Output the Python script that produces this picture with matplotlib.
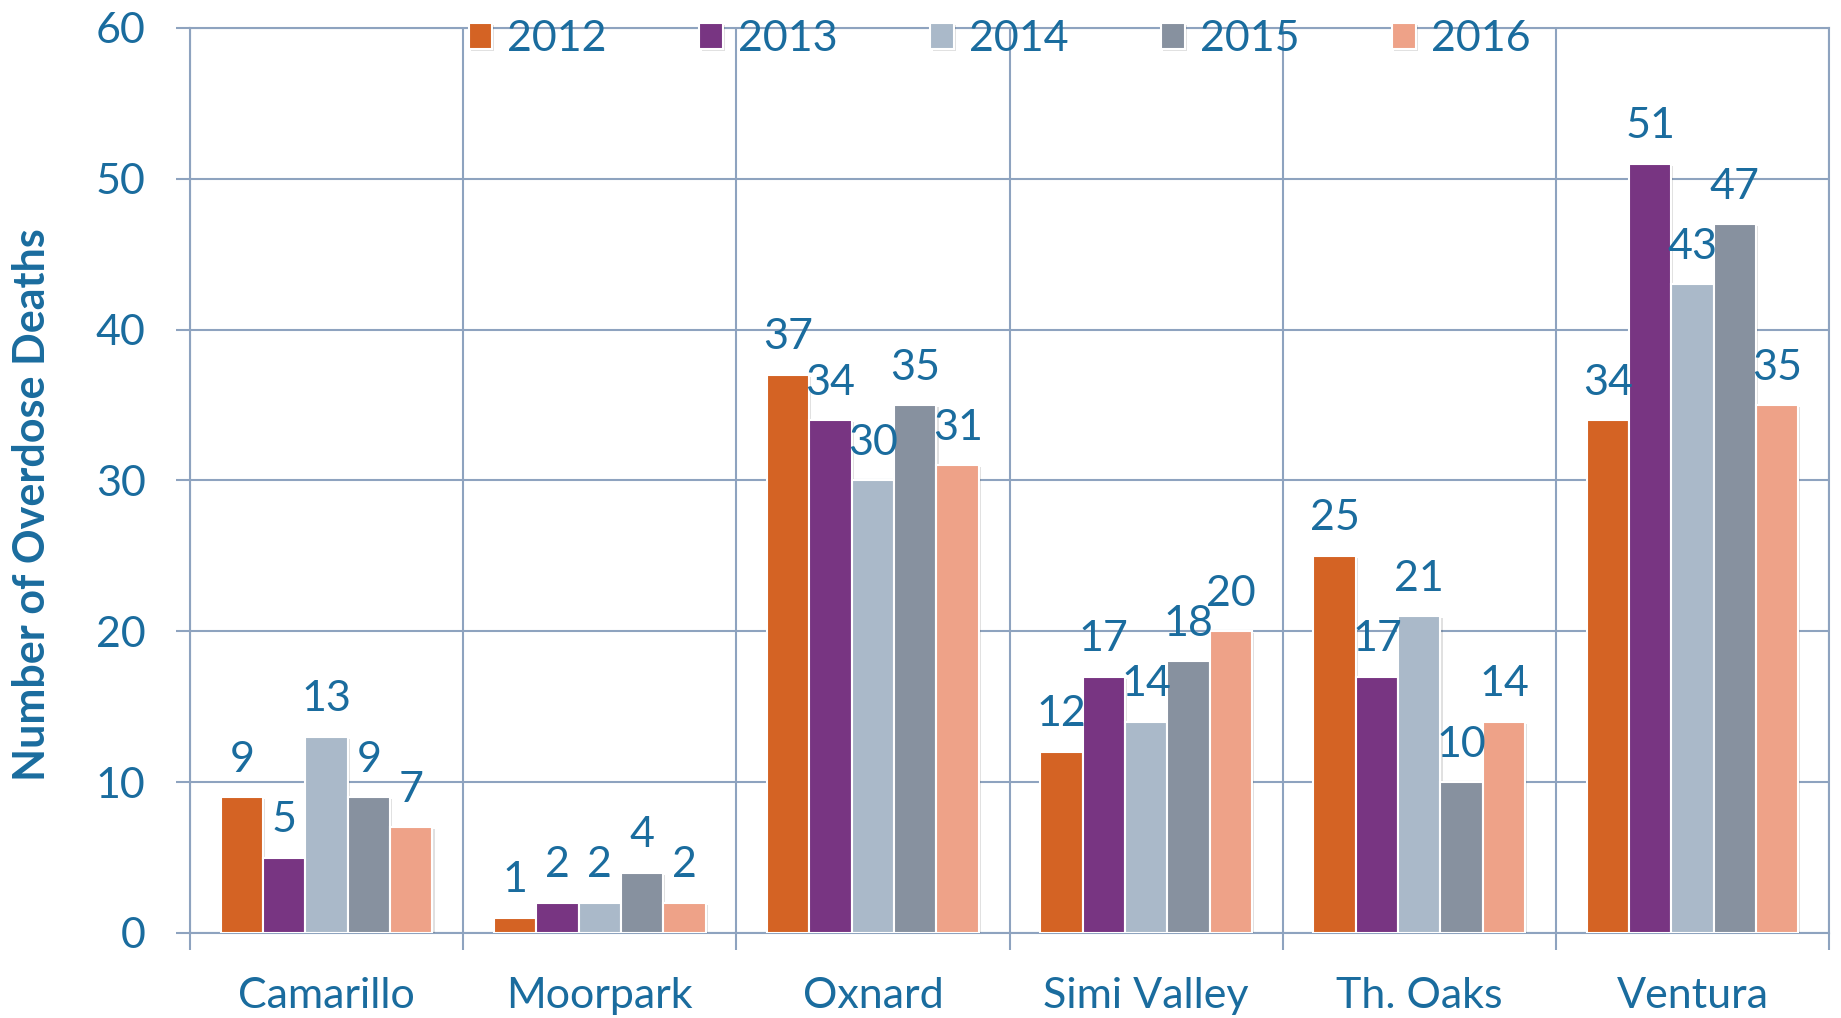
import numpy as np
import matplotlib
matplotlib.use('Agg')
import matplotlib.pyplot as plt
import matplotlib.patheffects as pe

# --- Data ---
cities = ['Camarillo', 'Moorpark', 'Oxnard', 'Simi Valley', 'Th. Oaks', 'Ventura']
years = ['2012', '2013', '2014', '2015', '2016']
deaths_2012 = [9, 1, 37, 12, 25, 34]
deaths_2013 = [5, 2, 34, 17, 17, 51]
deaths_2014 = [13, 2, 30, 14, 21, 43]
deaths_2015 = [9, 4, 35, 18, 10, 47]
deaths_2016 = [7, 2, 31, 20, 14, 35]
y_ticks = [0, 10, 20, 30, 40, 50, 60]

series = [deaths_2012, deaths_2013, deaths_2014, deaths_2015, deaths_2016]
colors = ['#D46324', '#783582', '#AAB9C9', '#87919F', '#EEA288']
text_color = '#1A6C9E'
grid_color = '#8EA3BF'

plt.rcParams['font.family'] = ['Lato', 'DejaVu Sans']

fig = plt.figure(figsize=(18.41, 10.18), dpi=100)
ax = fig.add_axes([0.1032, 0.0835, 0.8903, 0.889])

x = np.arange(len(cities))
bar_w = 0.155
shadow = [pe.SimplePatchShadow(offset=(1.5, -1.5), shadow_rgbFace='#000000', alpha=0.12), pe.Normal()]
for i, (vals, col, yr) in enumerate(zip(series, colors, years)):
    pos = x + (i - 2) * bar_w
    bars = ax.bar(pos, vals, width=bar_w, color=col, edgecolor='white',
                  linewidth=1.5, label=yr, zorder=3)
    for b, v in zip(bars, vals):
        b.set_path_effects(shadow)
        ax.annotate(str(v), (b.get_x() + b.get_width() / 2, v),
                    xytext=(0, 27), textcoords='offset points',
                    ha='center', va='center', fontsize=31, color=text_color, zorder=4)

ax.set_xlim(-0.5, len(cities) - 0.5)
ax.set_ylim(0, 60)
ax.set_yticks(y_ticks)
ax.set_yticklabels([str(t) for t in y_ticks])

# boundaries as major ticks (grid), city names as minor ticks
ax.set_xticks(np.arange(-0.5, len(cities), 1.0))
ax.set_xticklabels([])
ax.set_xticks(x, minor=True)
ax.set_xticklabels(cities, minor=True)

ax.tick_params(axis='y', length=10, width=1.5, color=grid_color, pad=22,
               labelsize=31, labelcolor=text_color)
ax.tick_params(axis='x', which='major', length=12, width=1.5, color=grid_color)
ax.tick_params(axis='x', which='minor', length=0, pad=32,
               labelsize=31, labelcolor=text_color)

ax.grid(True, which='major', color=grid_color, linewidth=1.5, zorder=0)
ax.set_axisbelow(True)
for s in ax.spines.values():
    s.set_color(grid_color)
    s.set_linewidth(1.5)

ax.set_ylabel('Number of Overdose Deaths', fontsize=31, fontweight='bold',
              color=text_color, va='center')
ax.yaxis.set_label_coords(-0.0964, 0.473)

ax.legend(loc='center', bbox_to_anchor=(0.494, 0.988), ncol=5, frameon=False,
          fontsize=31, labelcolor=text_color, handlelength=0.55, handleheight=0.55,
          handletextpad=0.35, columnspacing=2.15, borderaxespad=0)

fig.savefig('out.png', dpi=100)
